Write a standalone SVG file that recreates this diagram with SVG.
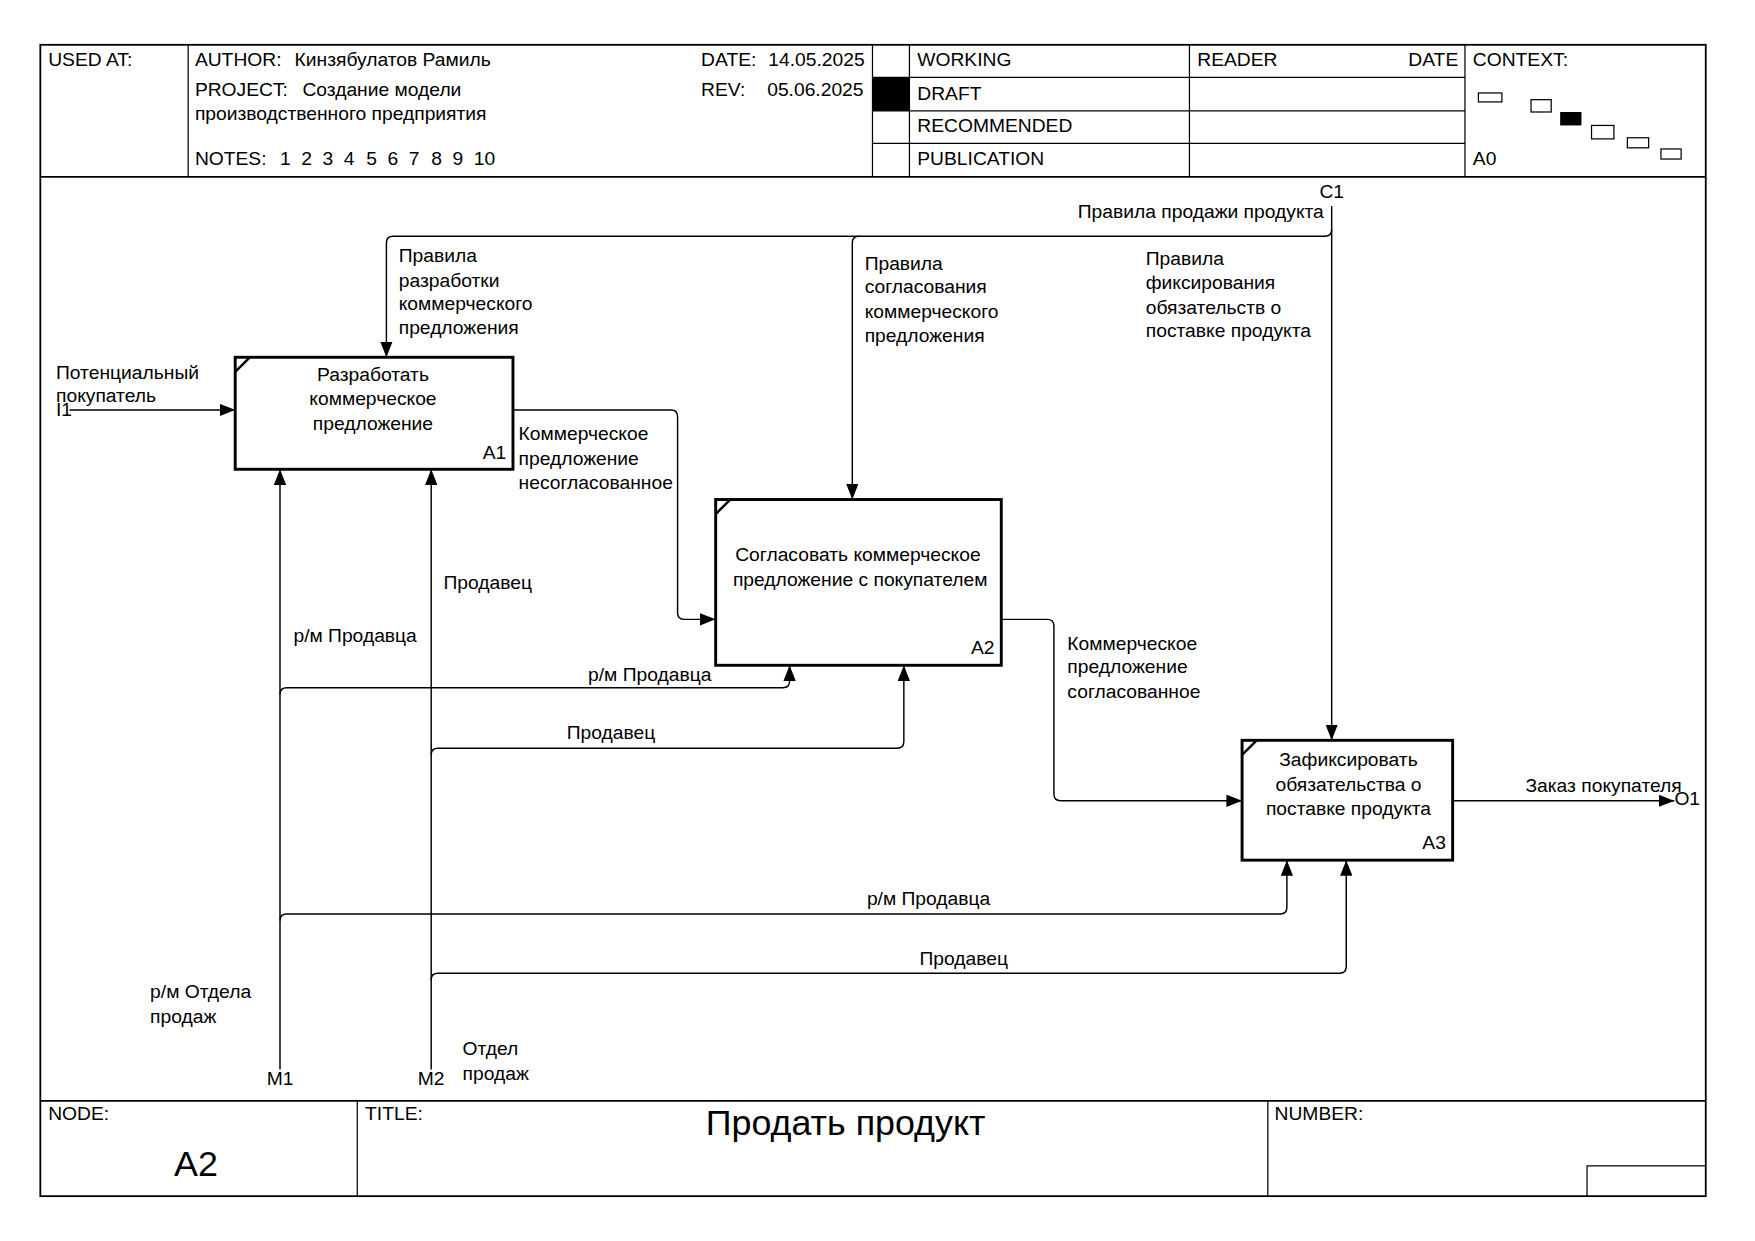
<svg xmlns="http://www.w3.org/2000/svg" width="1755" height="1241" viewBox="0 0 1755 1241">
<style>
text{font-family:"Liberation Sans",Arial,sans-serif;font-size:17.2px;fill:#000}
.c{text-anchor:middle}
.e{text-anchor:end}
.frame{fill:none;stroke:#000;stroke-width:1.6}
.thin{fill:none;stroke:#000;stroke-width:1.1}
.box{fill:#fff;stroke:#000;stroke-width:2.6}
.corner{stroke:#000;stroke-width:2.2}
.arr{fill:none;stroke:#000;stroke-width:1.3}
.big{font-size:32px}
</style>
<defs>
<marker id="ah" markerUnits="userSpaceOnUse" markerWidth="14" markerHeight="11" refX="14" refY="5.5" orient="auto"><path d="M0,0 L14,5.5 L0,11 z" fill="#000"/></marker>
</defs>
<rect width="1755" height="1241" fill="#fff"/>
<g transform="scale(1.12)">
<g id="frame">
<rect class="frame" x="36" y="40" width="1487" height="1028"/>
<line class="frame" x1="36" y1="158" x2="1523" y2="158"/>
<line class="thin" x1="168" y1="40" x2="168" y2="158"/>
<line class="thin" x1="779" y1="40" x2="779" y2="158"/>
<line class="thin" x1="812" y1="40" x2="812" y2="158"/>
<line class="thin" x1="1062" y1="40" x2="1062" y2="158"/>
<line class="thin" x1="1308" y1="40" x2="1308" y2="158"/>
<line class="thin" x1="779" y1="69" x2="1308" y2="69"/>
<line class="thin" x1="779" y1="99" x2="1308" y2="99"/>
<line class="thin" x1="779" y1="128" x2="1308" y2="128"/>
<rect x="779" y="69" width="33" height="30" fill="#000"/>
<text x="43" y="59">USED AT:</text>
<text x="174" y="59">AUTHOR:</text>
<text x="263" y="59">Кинзябулатов Рамиль</text>
<text x="626" y="59">DATE:</text>
<text x="686" y="59">14.05.2025</text>
<text x="174" y="86">PROJECT:</text>
<text x="270" y="86">Создание модели</text>
<text x="626" y="86">REV:</text>
<text x="685" y="86">05.06.2025</text>
<text x="174" y="107">производственного предприятия</text>
<text x="174" y="147">NOTES:</text>
<text x="250" y="147">1</text><text x="269" y="147">2</text><text x="288" y="147">3</text><text x="307" y="147">4</text><text x="327" y="147">5</text><text x="346" y="147">6</text><text x="365" y="147">7</text><text x="385" y="147">8</text><text x="404" y="147">9</text><text x="423" y="147">10</text>
<text x="819" y="59">WORKING</text>
<text x="819" y="89">DRAFT</text>
<text x="819" y="118">RECOMMENDED</text>
<text x="819" y="147">PUBLICATION</text>
<text x="1069" y="59">READER</text>
<text class="e" x="1302" y="59">DATE</text>
<text x="1315" y="59">CONTEXT:</text>
<text x="1315" y="147">A0</text>
<rect class="thin" x="1320" y="83" width="21" height="8"/>
<rect class="thin" x="1367" y="89" width="18" height="11"/>
<rect x="1393" y="100" width="19" height="12" fill="#000"/>
<rect class="thin" x="1421" y="112" width="20" height="12"/>
<rect class="thin" x="1453" y="123" width="19" height="9"/>
<rect class="thin" x="1483" y="133" width="18" height="9"/>
<line class="frame" x1="36" y1="983" x2="1523" y2="983"/>
<line class="thin" x1="319" y1="983" x2="319" y2="1068"/>
<line class="thin" x1="1132" y1="983" x2="1132" y2="1068"/>
<polyline class="thin" points="1417,1068 1417,1041 1523,1041"/>
<text x="43" y="1000">NODE:</text>
<text x="326" y="1000">TITLE:</text>
<text x="1138" y="1000">NUMBER:</text>
<text class="c big" x="755" y="1013">Продать продукт</text>
<text class="c big" x="175" y="1050">A2</text>
</g>
<g id="connectors">
<path class="arr" marker-end="url(#ah)" d="M1189,184 V205 Q1189,211 1183,211 H351 Q345,211 345,217 V319"/>
<path class="arr" marker-end="url(#ah)" d="M767,211 Q761,211 761,217 V446"/>
<path class="arr" marker-end="url(#ah)" d="M1189,205 V661"/>
<path class="arr" marker-end="url(#ah)" d="M62,366 H210"/>
<path class="arr" marker-end="url(#ah)" d="M458,366 H599 Q605,366 605,372 V547 Q605,553 611,553 H639"/>
<path class="arr" marker-end="url(#ah)" d="M894,553 H935 Q941,553 941,559 V709 Q941,715 947,715 H1109"/>
<path class="arr" marker-end="url(#ah)" d="M1297,715 H1495"/>
<path class="arr" marker-end="url(#ah)" d="M250,955 V419"/>
<path class="arr" marker-end="url(#ah)" d="M250,620 Q250,614 256,614 H699 Q705,614 705,608 V594"/>
<path class="arr" marker-end="url(#ah)" d="M250,822 Q250,816 256,816 H1143 Q1149,816 1149,810 V768"/>
<path class="arr" marker-end="url(#ah)" d="M385,955 V419"/>
<path class="arr" marker-end="url(#ah)" d="M385,674 Q385,668 391,668 H801 Q807,668 807,662 V594"/>
<path class="arr" marker-end="url(#ah)" d="M385,875 Q385,869 391,869 H1196 Q1202,869 1202,863 V768"/>
<text class="c" x="1189" y="177">C1</text>
<text class="e" x="1182" y="195">Правила продажи продукта</text>
<text x="356" y="234">Правила</text><text x="356" y="256">разработки</text><text x="356" y="277">коммерческого</text><text x="356" y="298">предложения</text>
<text x="772" y="241">Правила</text><text x="772" y="262">согласования</text><text x="772" y="284">коммерческого</text><text x="772" y="305">предложения</text>
<text x="1023" y="237">Правила</text><text x="1023" y="258">фиксирования</text><text x="1023" y="280">обязательств о</text><text x="1023" y="301">поставке продукта</text>
<text x="50" y="338">Потенциальный</text><text x="50" y="359">покупатель</text>
<text x="50" y="371">I1</text>
<text x="463" y="393">Коммерческое</text><text x="463" y="415">предложение</text><text x="463" y="437">несогласованное</text>
<text x="396" y="526">Продавец</text>
<text x="262" y="573">р/м Продавца</text>
<text x="525" y="608">р/м Продавца</text>
<text x="506" y="660">Продавец</text>
<text x="953" y="580">Коммерческое</text><text x="953" y="601">предложение</text><text x="953" y="623">согласованное</text>
<text x="1362" y="707">Заказ покупателя</text>
<text x="1495" y="719">O1</text>
<text x="774" y="808">р/м Продавца</text>
<text x="821" y="862">Продавец</text>
<text x="134" y="891">р/м Отдела</text><text x="134" y="913">продаж</text>
<text x="413" y="942">Отдел</text><text x="413" y="964">продаж</text>
<text class="c" x="250" y="969">M1</text>
<text class="c" x="385" y="969">M2</text>
</g>
<g id="A1">
<rect class="box" x="210" y="319" width="248" height="100"/>
<line class="corner" x1="210" y1="332" x2="223" y2="319"/>
<text class="c" x="333" y="340">Разработать</text>
<text class="c" x="333" y="362">коммерческое</text>
<text class="c" x="333" y="384">предложение</text>
<text class="e" x="452" y="410">A1</text>
</g>
<g id="A2">
<rect class="box" x="639" y="446" width="255" height="148"/>
<line class="corner" x1="639" y1="459" x2="652" y2="446"/>
<text class="c" x="766" y="501">Согласовать коммерческое</text>
<text class="c" x="768" y="523">предложение с покупателем</text>
<text class="e" x="888" y="584">A2</text>
</g>
<g id="A3">
<rect class="box" x="1109" y="661" width="188" height="107"/>
<line class="corner" x1="1109" y1="674" x2="1122" y2="661"/>
<text class="c" x="1204" y="684">Зафиксировать</text>
<text class="c" x="1204" y="706">обязательства о</text>
<text class="c" x="1204" y="728">поставке продукта</text>
<text class="e" x="1291" y="758">A3</text>
</g>
</g>
</svg>
